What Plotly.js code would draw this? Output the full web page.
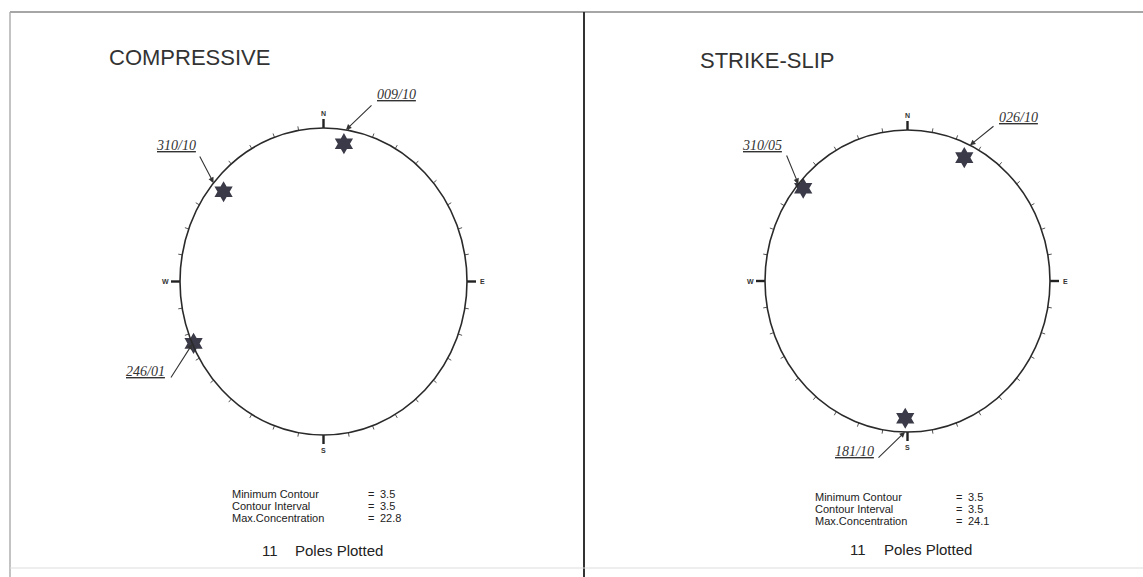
<!DOCTYPE html>
<html>
<head>
<meta charset="utf-8">
<script src="https://cdn.plot.ly/plotly-3.0.1.min.js"></script>
<style>html,body{margin:0;padding:0;background:#fff;}#chart{width:1143px;height:577px;}</style>
</head>
<body>
<div id="chart"></div>
<script>
// ---- data ----
const panelTitles = ['COMPRESSIVE', 'STRIKE-SLIP'];
const compressiveTrend = [9, 310, 246];
const compressivePlunge = [10, 10, 1];
const strikeSlipTrend = [26, 310, 181];
const strikeSlipPlunge = [10, 5, 10];
const minimumContour = [3.5, 3.5];
const contourInterval = [3.5, 3.5];
const maxConcentration = [22.8, 24.1];
const polesPlotted = [11, 11];
const cardinalLabels = ['N', 'E', 'S', 'W'];
const cardinalAzimuths = [0, 90, 180, 270];

// ---- layout helpers ----
const W = 1143, H = 577;
const px = x => x / W;
const py = y => 1 - y / H;
const panels = [
  {cx: 323.5, cy: 281.5, rx: 143.5, ry: 153.5, x0: 10, x1: 584,
   trend: compressiveTrend, plunge: compressivePlunge,
   title: [107, 57],
   labels: [{t: [396, 95], tail: [373, 104]}, {t: [176, 146], tail: [199, 155]}, {t: [145, 371], tail: [170, 379]}],
   stats: {x: 230, ys: [494, 506, 518], eq: 366, val: 378, n: [260, 293], ny: 550}},
  {cx: 907.5, cy: 281, rx: 142.5, ry: 151, x0: 584, x1: 1143,
   trend: strikeSlipTrend, plunge: strikeSlipPlunge,
   title: [698, 60],
   labels: [{t: [1018, 117], tail: [995, 125]}, {t: [762, 146], tail: [786, 154]}, {t: [854, 451], tail: [877, 459]}],
   stats: {x: 813, ys: [497, 509, 521], eq: 954, val: 966, n: [848, 882], ny: 549}}
];
const pad = (v, n) => String(v).padStart(n, '0');
const deg = Math.PI / 180;
function project(trend, plunge) {
  const r = Math.SQRT2 * Math.sin((90 - plunge) / 2 * deg);
  return [r * Math.sin(trend * deg), r * Math.cos(trend * deg)];
}

const traces = [], shapes = [], annotations = [];
const layout = {width: W, height: H, margin: {l: 0, r: 0, t: 0, b: 0},
  paper_bgcolor: '#fff', plot_bgcolor: 'rgba(0,0,0,0)', showlegend: false};

const tickAz = [];
for (let a = 0; a < 360; a += 10) tickAz.push(a);

panels.forEach((p, i) => {
  const xa = i === 0 ? 'x' : 'x2', ya = i === 0 ? 'y' : 'y2';
  const xk = i === 0 ? 'xaxis' : 'xaxis2', yk = i === 0 ? 'yaxis' : 'yaxis2';
  const ytop = 12, ybot = H;
  layout[xk] = {domain: [px(p.x0), px(p.x1)], range: [(p.x0 - p.cx) / p.rx, (p.x1 - p.cx) / p.rx],
    visible: false, fixedrange: true};
  layout[yk] = {domain: [py(ybot), py(ytop)], range: [(p.cy - ybot) / p.ry, (p.cy - ytop) / p.ry],
    visible: false, fixedrange: true};
  if (i === 1) layout[yk].anchor = 'x2';
  const toData = (X, Y) => [(X - p.cx) / p.rx, (p.cy - Y) / p.ry];

  // primitive circle
  shapes.push({type: 'circle', xref: xa, yref: ya, x0: -1, x1: 1, y0: -1, y1: 1,
    line: {color: '#2a2a2a', width: 1.6}});

  // small ticks
  const tx = [], ty = [];
  tickAz.filter(a => a % 90 !== 0).forEach(a => {
    const s = Math.sin(a * deg), c = Math.cos(a * deg);
    tx.push(s, s * (1 + 4 / p.rx), null);
    ty.push(c, c * (1 + 4 / p.ry), null);
  });
  traces.push({x: tx, y: ty, xaxis: xa, yaxis: ya, mode: 'lines', hoverinfo: 'skip',
    line: {color: '#555', width: 1}});
  // cardinal ticks
  const cx = [], cy = [];
  cardinalAzimuths.forEach(a => {
    const s = Math.sin(a * deg), c = Math.cos(a * deg);
    cx.push(s, s * (1 + 9 / p.rx), null);
    cy.push(c, c * (1 + 9 / p.ry), null);
  });
  traces.push({x: cx, y: cy, xaxis: xa, yaxis: ya, mode: 'lines', hoverinfo: 'skip',
    line: {color: '#222', width: 2.4}});
  cardinalLabels.forEach((lab, k) => {
    const a = cardinalAzimuths[k], s = Math.sin(a * deg), c = Math.cos(a * deg);
    annotations.push({xref: xa, yref: ya, x: s * (1 + 15 / p.rx), y: c * (1 + 15 / p.ry),
      text: '<b>' + lab + '</b>', showarrow: false, font: {family: 'Liberation Sans', size: 7, color: '#333'}});
  });

  // poles
  const pts = p.trend.map((t, k) => project(t, p.plunge[k]));
  traces.push({x: pts.map(q => q[0]), y: pts.map(q => q[1]), xaxis: xa, yaxis: ya, mode: 'markers',
    hoverinfo: 'skip', cliponaxis: false,
    marker: {symbol: 'hexagram', size: 16, color: '#3a3a48', line: {width: 0}}});

  // labels + leaders
  p.trend.forEach((t, k) => {
    const L = p.labels[k];
    const text = pad(t, 3) + '/' + pad(p.plunge[k], 2);
    annotations.push({xref: 'paper', yref: 'paper', x: px(L.t[0]), y: py(L.t[1]),
      text: '<i><u>' + text + '</u></i>', showarrow: false, xanchor: 'center', yanchor: 'middle',
      font: {family: 'Liberation Serif', size: 14, color: '#333'}});
    const tip = [Math.sin(t * deg), Math.cos(t * deg)];
    const tail = toData(L.tail[0], L.tail[1]);
    annotations.push({xref: xa, yref: ya, axref: xa, ayref: ya, x: tip[0], y: tip[1], ax: tail[0], ay: tail[1],
      text: '', showarrow: true, arrowhead: 2, arrowsize: 1, arrowwidth: 1.1, arrowcolor: '#333'});
  });

  // title
  annotations.push({xref: 'paper', yref: 'paper', x: px(p.title[0]), y: py(p.title[1]), xanchor: 'left', yanchor: 'middle',
    text: panelTitles[i], showarrow: false, font: {family: 'Liberation Sans', size: 22, color: '#333'}});

  // stats block
  const S = p.stats;
  const rows = [['Minimum Contour', minimumContour[i]], ['Contour Interval', contourInterval[i]],
    ['Max.Concentration', maxConcentration[i]]];
  rows.forEach((r, k) => {
    const f = {family: 'Liberation Sans', size: 11, color: '#222'};
    annotations.push({xref: 'paper', yref: 'paper', x: px(S.x), y: py(S.ys[k]), xanchor: 'left', yanchor: 'middle',
      text: r[0], showarrow: false, font: f});
    annotations.push({xref: 'paper', yref: 'paper', x: px(S.eq), y: py(S.ys[k]), xanchor: 'left', yanchor: 'middle',
      text: '=', showarrow: false, font: f});
    annotations.push({xref: 'paper', yref: 'paper', x: px(S.val), y: py(S.ys[k]), xanchor: 'left', yanchor: 'middle',
      text: String(r[1]), showarrow: false, font: f});
  });
  const nf = {family: 'Liberation Sans', size: 15, color: '#222'};
  annotations.push({xref: 'paper', yref: 'paper', x: px(S.n[0]), y: py(S.ny), xanchor: 'left', yanchor: 'middle',
    text: String(polesPlotted[i]), showarrow: false, font: nf});
  annotations.push({xref: 'paper', yref: 'paper', x: px(S.n[1]), y: py(S.ny), xanchor: 'left', yanchor: 'middle',
    text: 'Poles Plotted', showarrow: false, font: nf});
});

// frame lines
shapes.push({type: 'line', xref: 'paper', yref: 'paper', x0: px(10), x1: 1, y0: py(12), y1: py(12), line: {color: '#888', width: 1.6}});
shapes.push({type: 'line', xref: 'paper', yref: 'paper', x0: px(10), x1: px(10), y0: py(12), y1: 0, line: {color: '#aaa', width: 1.4}});
shapes.push({type: 'line', xref: 'paper', yref: 'paper', x0: px(584), x1: px(584), y0: py(12), y1: 0, line: {color: '#333', width: 2}});
shapes.push({type: 'line', xref: 'paper', yref: 'paper', x0: px(10), x1: 1, y0: py(568), y1: py(568), line: {color: '#ddd', width: 1}});

layout.shapes = shapes;
layout.annotations = annotations;
Plotly.newPlot('chart', traces, layout, {staticPlot: true, displayModeBar: false});
</script>
</body>
</html>
